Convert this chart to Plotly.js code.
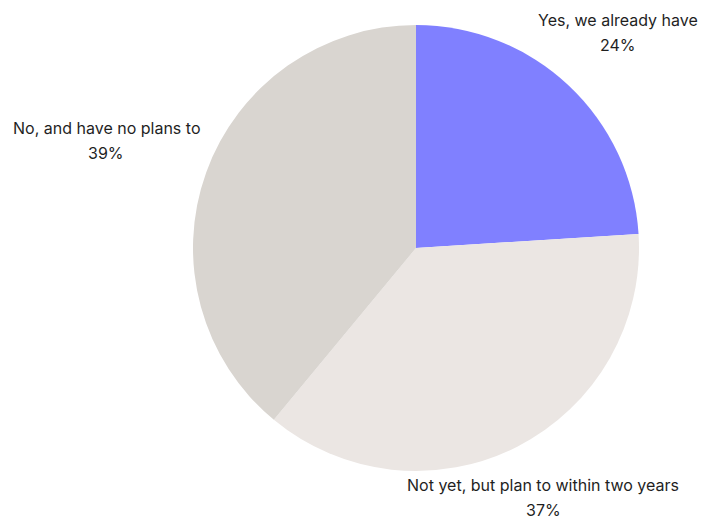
<!DOCTYPE html>
<html>
<head>
<meta charset="utf-8">
<script src="https://cdn.plot.ly/plotly-3.0.1.min.js"></script>
<style>html,body{margin:0;padding:0;background:#fff}#chart{width:702px;height:521px}</style>
</head>
<body>
<div id="chart"></div>
<script>
var labels = ["Yes, we already have", "Not yet, but plan to within two years", "No, and have no plans to"];
var values = [24, 37, 39];
var colors = ["#8080FF", "#EBE6E3", "#D9D5D0"];
// label anchor positions (pixels) for the outside labels
var labelX = [618, 543, 106];
var labelY = [20, 485, 128];

var W = 702, H = 521;
var total = values.reduce(function(a, b){ return a + b; }, 0);
var annotations = [];
labels.forEach(function(lab, i){
  var pct = Math.round(values[i] / total * 100) + "%";
  annotations.push({
    xref: "paper", yref: "paper", x: labelX[i] / W, y: 1 - labelY[i] / H,
    xanchor: "center", yanchor: "middle", showarrow: false,
    text: lab, font: {size: 16, color: "#1f1f1f", family: "Inter, sans-serif"}
  });
  annotations.push({
    xref: "paper", yref: "paper", x: labelX[i] / W, y: 1 - (labelY[i] + 25) / H,
    xanchor: "center", yanchor: "middle", showarrow: false,
    text: pct, font: {size: 16, color: "#1f1f1f", family: "Inter, sans-serif"}
  });
});

Plotly.newPlot("chart", [{
  type: "pie",
  labels: labels,
  values: values,
  sort: false,
  direction: "clockwise",
  rotation: 0,
  marker: {colors: colors, line: {width: 0}},
  textinfo: "none",
  showlegend: false,
  domain: {x: [193/W, 639/W], y: [50/H, (H-25)/H]},
  hoverinfo: "label+percent"
}], {
  width: W,
  height: H,
  margin: {l: 0, r: 0, t: 0, b: 0},
  paper_bgcolor: "#ffffff",
  font: {family: "Inter, sans-serif", color: "#1f1f1f", size: 16},
  showlegend: false,
  annotations: annotations
}, {displayModeBar: false, staticPlot: true});
</script>
</body>
</html>
